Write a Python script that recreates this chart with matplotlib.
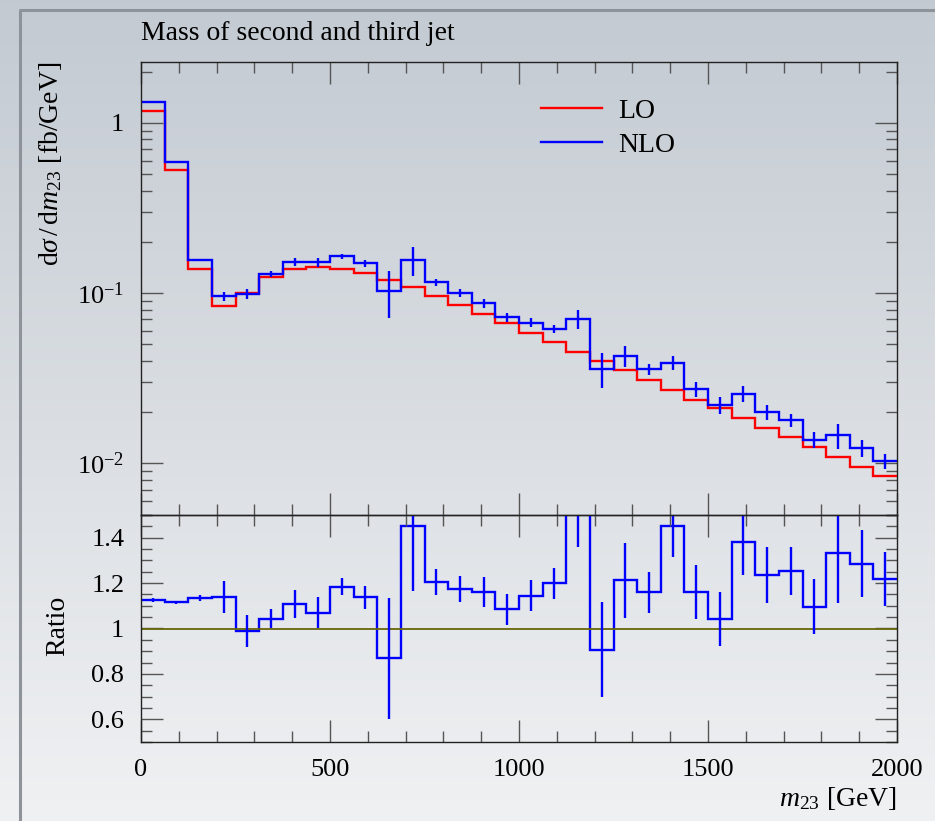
import matplotlib.pyplot as plt
import numpy as np
from matplotlib.lines import Line2D
from matplotlib.ticker import MultipleLocator, LogLocator, NullFormatter, FuncFormatter

plt.rcParams['font.family'] = ['Liberation Serif', 'DejaVu Serif']
plt.rcParams['mathtext.fontset'] = 'custom'
plt.rcParams['mathtext.rm'] = 'Liberation Serif'
plt.rcParams['mathtext.it'] = 'Liberation Serif:italic'

# m23 binning: 32 bins of 62.5 GeV from 0 to 2000
bin_width = 62.5
n_bins = 32

# dsigma/dm23 [fb/GeV] per bin
lo = [1.176, 0.532, 0.1377, 0.0839, 0.100, 0.1237, 0.1377, 0.142,
      0.139, 0.1316, 0.1192, 0.108, 0.0964, 0.0854, 0.0753, 0.0667,
      0.0585, 0.0516, 0.0452, 0.0397, 0.0353, 0.0308, 0.0269, 0.0235,
      0.0210, 0.01853, 0.0162, 0.01427, 0.01252, 0.01094, 0.00955, 0.00846]
nlo = [1.323, 0.593, 0.1563, 0.0956, 0.0989, 0.1291, 0.1524, 0.1518,
       0.1647, 0.1496, 0.1035, 0.1568, 0.1162, 0.1002, 0.0873, 0.0723,
       0.0670, 0.0619, 0.0705, 0.0360, 0.0428, 0.0357, 0.0391, 0.0273,
       0.0219, 0.0256, 0.0200, 0.0179, 0.01373, 0.01458, 0.01228, 0.01031]
nlo_err = [0.012, 0.004, 0.0017, 0.0060, 0.0069, 0.0053, 0.0085, 0.0098,
           0.0051, 0.0067, 0.0319, 0.0309, 0.0055, 0.0049, 0.0050, 0.0046,
           0.0041, 0.0035, 0.0090, 0.0083, 0.0058, 0.0028, 0.0037, 0.0028,
           0.0025, 0.0027, 0.0020, 0.0015, 0.0015, 0.0024, 0.0014, 0.0010]

lo = np.array(lo)
nlo = np.array(nlo)
nlo_err = np.array(nlo_err)
edges = np.arange(n_bins + 1) * bin_width
centers = 0.5 * (edges[:-1] + edges[1:])
ratio = nlo / lo
ratio_err = nlo_err / lo

W, H = 935, 821
fig = plt.figure(figsize=(W / 100, H / 100), dpi=100)

# grey gradient backdrop, darker at the top, with a frame line on the left and top
bg = fig.add_axes([0, 0, 1, 1], zorder=-10)
grad = np.linspace(0, 1, 256)[:, None]
top_c = np.array([0.765, 0.792, 0.822])
bot_c = np.array([0.940, 0.945, 0.952])
img = top_c[None, None, :] * (1 - grad[:, :, None]) + bot_c[None, None, :] * grad[:, :, None]
bg.imshow(img, aspect='auto', extent=[0, 1, 0, 1], origin='upper')
bg.set_xlim(0, 1)
bg.set_ylim(0, 1)
bg.axis('off')
fx, fy = 20 / W, 10 / H
fig.add_artist(Line2D([fx, fx, 1], [0, 1 - fy, 1 - fy], transform=fig.transFigure,
                      color='#8e9399', lw=2.2))

left = 141 / W
width = 756 / W
ax1 = fig.add_axes([left, 1 - 515 / H, width, 453 / H])
ax2 = fig.add_axes([left, 1 - 742 / H, width, 227 / H], sharex=ax1)

lw = 1.7
red = '#ff0000'
blue = '#0000ff'
fs = 20

# upper panel: distributions
ax1.stairs(lo, edges, baseline=None, color=red, lw=lw)
ax1.stairs(nlo, edges, baseline=None, color=blue, lw=lw)
ax1.errorbar(centers, nlo, yerr=nlo_err, fmt='none', ecolor=blue, elinewidth=lw)
ax1.set_yscale('log')
ax1.set_xlim(0, 2000)
ax1.set_ylim(0.00497, 2.28)
ax1.set_yticks([1e-2, 1e-1, 1])
ax1.set_yticklabels([r'$10^{-2}$', r'$10^{-1}$', '1'])
ax1.yaxis.set_minor_locator(LogLocator(base=10, subs=np.arange(2, 10)))
ax1.yaxis.set_minor_formatter(NullFormatter())
ax1.tick_params(labelbottom=False)
ax1.set_title('Mass of second and third jet', loc='left', fontsize=fs, pad=16)
ax1.set_ylabel(r'd$\sigma\,$/$\,$d$m_{23}$ [fb/GeV]', fontsize=fs, loc='top')
ax1.yaxis.set_label_coords(-0.102, 1.0)

handles = [Line2D([], [], color=red, lw=lw), Line2D([], [], color=blue, lw=lw)]
ax1.legend(handles, ['LO', 'NLO'], loc='upper left', bbox_to_anchor=(0.529, 0.92),
           frameon=False, fontsize=fs, handlelength=2.2, handletextpad=0.6,
           labelspacing=0.32, borderpad=0, borderaxespad=0)

# lower panel: NLO / LO
ax2.axhline(1.0, color='#66660a', lw=1.3)
ax2.stairs(ratio, edges, baseline=None, color=blue, lw=lw)
ax2.errorbar(centers, ratio, yerr=ratio_err, fmt='none', ecolor=blue, elinewidth=lw)
ax2.set_ylim(0.5, 1.5)
ax2.yaxis.set_major_locator(MultipleLocator(0.2))
ax2.yaxis.set_minor_locator(MultipleLocator(0.05))
ax2.yaxis.set_major_formatter(FuncFormatter(lambda v, p: '%g' % round(v, 2)))
ax2.set_ylabel('Ratio', fontsize=fs)
ax2.yaxis.set_label_coords(-0.094, 0.51)
ax2.set_xlabel(r'$m_{23}$ [GeV]', fontsize=fs, loc='right')
ax2.xaxis.set_label_coords(1.0, -0.19)

for ax in (ax1, ax2):
    ax.set_facecolor('none')
    ax.xaxis.set_major_locator(MultipleLocator(500))
    ax.xaxis.set_minor_locator(MultipleLocator(100))
    ax.tick_params(which='both', direction='in', top=True, right=True,
                   color='#555555', width=1.0, labelsize=19, pad=12)
    ax.tick_params(which='major', length=16)
    ax.tick_params(which='minor', length=8)
    for sp in ax.spines.values():
        sp.set_color('#222222')
        sp.set_linewidth(1.0)

fig.savefig('out.png', dpi=100)
